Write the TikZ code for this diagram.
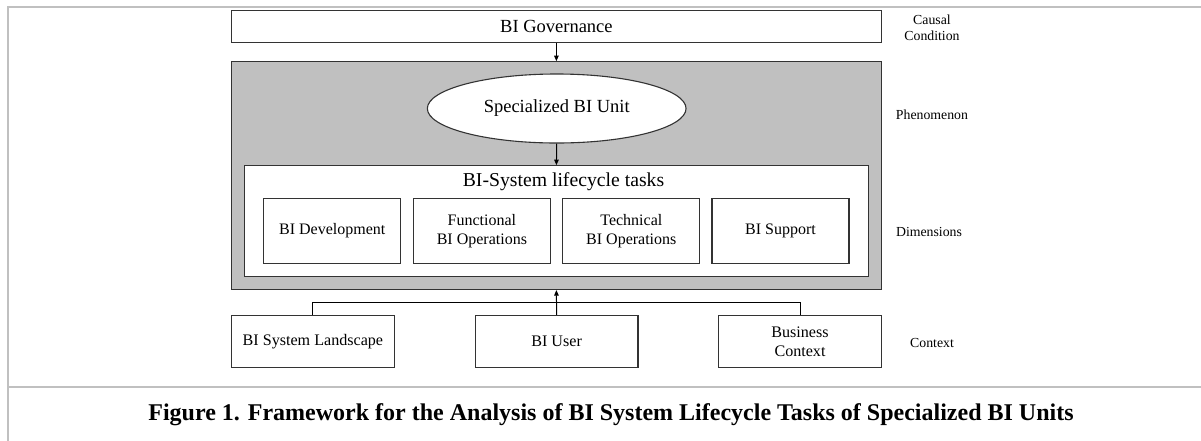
\documentclass[tikz,border=0pt]{standalone}
\usepackage{fontspec}
\setmainfont{Liberation Serif}
\usetikzlibrary{arrows.meta,shapes.geometric}
\definecolor{framegray}{HTML}{C0C0C0}
\definecolor{boxline}{HTML}{333333}
\tikzset{
  box/.style={draw=boxline, line width=1.1pt, fill=white, rectangle, inner sep=0pt, align=center},
  taskbox/.style={box, minimum width=137pt, minimum height=65pt, font=\fontsize{16}{19.3}\selectfont},
  ctxbox/.style={box, minimum width=162.7pt, minimum height=52.3pt, font=\fontsize{16.1}{19}\selectfont},
  sidelabel/.style={align=center, inner sep=0pt, font=\fontsize{13.8}{16}\selectfont},
  link/.style={draw=black, line width=1pt},
  tip/.style={-{Triangle[length=5.5pt,width=4.5pt]}}
}
\begin{document}
\begin{tikzpicture}[x=1pt,y=-1pt]
  \useasboundingbox (0,0) rectangle (1201,440);
  % page frame
  \draw[framegray, line width=2.2pt] (7.7,441) -- (7.7,7.3) -- (1202,7.3);
  \draw[framegray, line width=2.2pt] (7.7,386.7) -- (1202,386.7);

  % causal condition
  \node[box, minimum width=649.8pt, minimum height=32.4pt, font=\fontsize{18.5}{21}\selectfont] (gov) at (556.4,26.5) {BI Governance};

  % phenomenon block
  \node[box, fill=framegray, minimum width=649.8pt, minimum height=227.8pt] (phen) at (556.4,175.6) {};
  \node[draw=boxline, line width=1.1pt, fill=white, ellipse, inner sep=0pt, minimum width=258.7pt, minimum height=69pt, font=\fontsize{18.5}{21}\selectfont] (unit) at (556.7,108.5) {Specialized BI Unit};
  \node[box, minimum width=624.7pt, minimum height=111pt] (tasks) at (556.4,221.2) {};
  \node[inner sep=0pt, font=\fontsize{19.7}{22}\selectfont] (taskstitle) at (563.5,182) {BI-System lifecycle tasks};

  \node[taskbox] (dev) at (332.2,230.8) {BI Development};
  \node[taskbox] (fops) at (481.9,230.8) {Functional\\BI Operations};
  \node[taskbox] (tops) at (631.3,230.8) {Technical\\BI Operations};
  \node[taskbox] (sup) at (780.5,230.8) {BI Support};

  % context
  \node[ctxbox] (land) at (312.9,341.5) {BI System Landscape};
  \node[ctxbox] (user) at (556.6,341.5) {BI User};
  \node[ctxbox] (bctx) at (800,341.5) {Business\\Context};
  \coordinate (join) at (556.6,302.4);

  % connectors
  \draw[link, tip] (gov.south) -- (phen.north);
  \draw[link, tip] (unit.south) -- (tasks.north);
  \draw[link] (land.north) |- (join) -| (bctx.north);
  \draw[link, tip] (user.north) -- (phen.south);

  % side labels
  \node[sidelabel] (lcausal) at (932,28) {Causal\\Condition};
  \node[sidelabel] (lphen) at (932,115) {Phenomenon};
  \node[sidelabel] (ldim) at (929,232) {Dimensions};
  \node[sidelabel] (lctx) at (932,343) {Context};

  % caption
  \node[inner sep=0pt, anchor=base, font=\bfseries\fontsize{24}{27}\selectfont] (caption) at (611,420) {Figure 1. Framework for the Analysis of BI System Lifecycle Tasks of Specialized BI Units};
\end{tikzpicture}
\end{document}
